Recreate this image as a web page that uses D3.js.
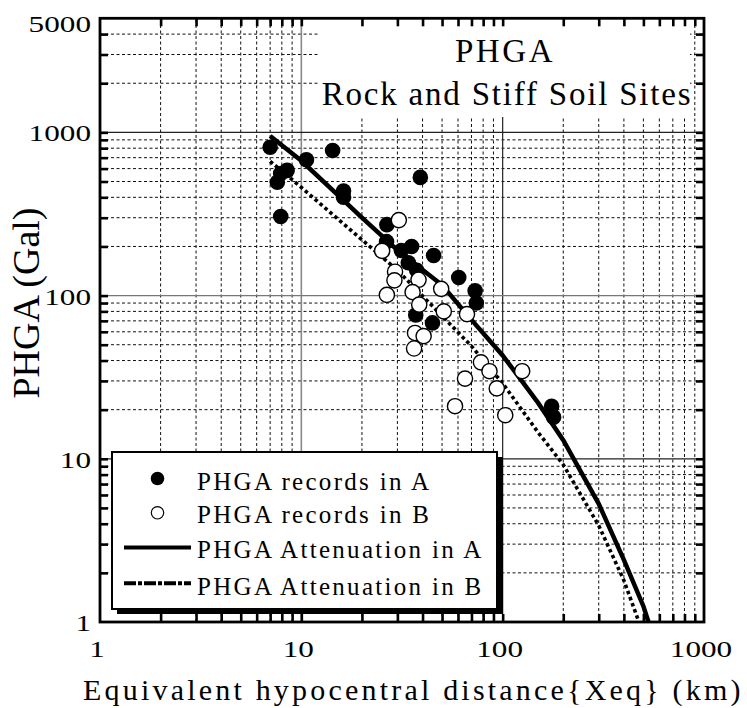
<!DOCTYPE html>
<html>
<head>
<meta charset="utf-8">
<script src="https://cdn.jsdelivr.net/npm/d3@7"></script>
<style>
  html, body { margin: 0; padding: 0; background: #fff; }
  svg { display: block; }
  text { font-family: "Liberation Serif", "Times New Roman", serif; fill: #000; }
</style>
</head>
<body>
<svg id="chart" width="747" height="708"></svg>
<script>
// PHGA records (distance km, PHGA Gal)
const recordsA_x = [7.0, 14.3, 10.6, 8.5, 7.9, 7.6, 16.2, 16.2, 7.9, 26.6, 26.5, 39, 35.3, 31.4, 45.4, 34, 37.4, 60.5, 73, 74, 37, 44.8, 175, 179];
const recordsA_y = [810, 775, 680, 585, 560, 495, 437, 400, 305, 272, 214, 530, 200, 189, 176, 159, 143, 129, 107, 90, 76, 68, 21, 18];
const recordsB_x = [30.5, 25.2, 29.2, 29, 38.2, 26.6, 35.7, 49.5, 38.5, 51, 66.5, 36.7, 40.5, 36.3, 78, 86, 125, 65, 93.5, 58, 103];
const recordsB_y = [290, 188, 140, 124, 125, 101, 105, 110, 88, 80, 77, 59, 56.5, 47.4, 39, 34.4, 34.4, 31, 27, 21, 18.5];

// attenuation curves
const attenA_x = [7, 10, 20, 30, 50, 70, 100, 150, 200, 300, 400, 500, 530];
const attenA_y = [950, 670, 300, 190, 116, 71, 43, 22, 13, 5.3, 2.4, 1.25, 1.0];
const attenB_x = [7, 10, 20, 30, 50, 70, 100, 150, 200, 300, 400, 475];
const attenB_y = [665, 460, 220, 143, 75, 49, 29, 14.5, 9.2, 3.9, 1.8, 1.0];

// axes
const xDomain = [1, 1000];
const yDomain = [1, 5000];
const xTickLabels = ["1", "10", "100", "1000"];
const yTickLabels = ["1", "10", "100", "1000", "5000"];
const legendLabels = ["PHGA records in A", "PHGA records in B", "PHGA Attenuation in A", "PHGA Attenuation in B"];

const svg = d3.select("#chart");
const L = 100, R = 704, T = 18.3, B = 622;
const x = d3.scaleLog().domain(xDomain).range([L, R]);
const y = d3.scaleLog().domain(yDomain).range([B, T]);

// minor / major positions
const xMinor = [], yMinor = [];
[1, 10, 100].forEach(d => { for (let k = 2; k <= 9; k++) { xMinor.push(k * d); yMinor.push(k * d); } });
[2000, 3000, 4000].forEach(v => yMinor.push(v));
const xMajorGrid = [10, 100];
const yMajorGrid = [10, 100, 1000];

const grid = svg.append("g");
grid.selectAll(".vmin").data(xMinor).join("line")
  .attr("x1", d => x(d)).attr("x2", d => x(d)).attr("y1", B).attr("y2", T)
  .attr("stroke", "#111").attr("stroke-width", 1).attr("stroke-dasharray", "3,2.5");
grid.selectAll(".hmin").data(yMinor).join("line")
  .attr("y1", d => y(d)).attr("y2", d => y(d)).attr("x1", L).attr("x2", R)
  .attr("stroke", "#111").attr("stroke-width", 1).attr("stroke-dasharray", "3,2.5");
grid.selectAll(".vmaj").data(xMajorGrid).join("line")
  .attr("x1", d => x(d)).attr("x2", d => x(d)).attr("y1", B).attr("y2", T)
  .attr("stroke", d => d === 10 ? "#888" : "#222").attr("stroke-width", d => d === 10 ? 1.6 : 1.2);
grid.selectAll(".hmaj").data(yMajorGrid).join("line")
  .attr("y1", d => y(d)).attr("y2", d => y(d)).attr("x1", L).attr("x2", R)
  .attr("stroke", d => d === 100 ? "#777" : "#222").attr("stroke-width", 1.2);

// title panel
svg.append("rect").attr("x", 320).attr("y", 20).attr("width", 370).attr("height", 97).attr("fill", "#fff");
svg.append("text").attr("x", 505).attr("y", 61.5).attr("text-anchor", "middle")
  .attr("font-size", 33).attr("letter-spacing", 2.6).text("PHGA");
svg.append("text").attr("x", 507).attr("y", 105).attr("text-anchor", "middle")
  .attr("font-size", 33).attr("letter-spacing", 1.8).text("Rock and Stiff Soil Sites");

// attenuation curves
const lineGen = d3.line().x(d => x(d[0])).y(d => y(d[1]));
svg.append("path").datum(d3.zip(attenA_x, attenA_y)).attr("d", lineGen)
  .attr("fill", "none").attr("stroke", "#000").attr("stroke-width", 4.5);
svg.append("path").datum(d3.zip(attenB_x, attenB_y)).attr("d", lineGen)
  .attr("fill", "none").attr("stroke", "#000").attr("stroke-width", 3.6).attr("stroke-dasharray", "3.5,3");

// records
svg.append("g").selectAll("circle").data(d3.zip(recordsA_x, recordsA_y)).join("circle")
  .attr("cx", d => x(d[0])).attr("cy", d => y(d[1])).attr("r", 7.8).attr("fill", "#000");
svg.append("g").selectAll("circle").data(d3.zip(recordsB_x, recordsB_y)).join("circle")
  .attr("cx", d => x(d[0])).attr("cy", d => y(d[1])).attr("r", 7.6)
  .attr("fill", "#fff").attr("stroke", "#000").attr("stroke-width", 1.4);

// axis ticks (inward on all four sides)
const xTickVals = xMinor.concat([10, 100]);
const yTickVals = yMinor.concat([10, 100, 1000]);
function styleAxis(g) {
  g.select(".domain").remove();
  g.selectAll(".tick line").attr("stroke", "#000").attr("stroke-width", 2.6);
  g.selectAll(".tick text").remove();
}
svg.append("g").attr("transform", `translate(0,${B})`)
  .call(d3.axisBottom(x).tickValues(xTickVals).tickSize(-8).tickFormat("")).call(styleAxis);
svg.append("g").attr("transform", `translate(0,${T})`)
  .call(d3.axisTop(x).tickValues(xTickVals).tickSize(-8).tickFormat("")).call(styleAxis);
svg.append("g").attr("transform", `translate(${L},0)`)
  .call(d3.axisLeft(y).tickValues(yTickVals).tickSize(-8).tickFormat("")).call(styleAxis);
svg.append("g").attr("transform", `translate(${R},0)`)
  .call(d3.axisRight(y).tickValues(yTickVals).tickSize(-8).tickFormat("")).call(styleAxis);

// legend
const lg = svg.append("g");
lg.append("rect").attr("x", 117).attr("y", 457).attr("width", 386).attr("height", 157).attr("fill", "#000");
lg.append("rect").attr("x", 112).attr("y", 452).attr("width", 385).attr("height", 157)
  .attr("fill", "#fff").attr("stroke", "#000").attr("stroke-width", 2);
lg.append("circle").attr("cx", 157.5).attr("cy", 478.5).attr("r", 6.8).attr("fill", "#000");
lg.append("circle").attr("cx", 157.5).attr("cy", 512.8).attr("r", 6.2)
  .attr("fill", "#fff").attr("stroke", "#000").attr("stroke-width", 1.2);
lg.append("line").attr("x1", 124).attr("x2", 191).attr("y1", 547.5).attr("y2", 547.5)
  .attr("stroke", "#000").attr("stroke-width", 4);
lg.append("line").attr("x1", 124).attr("x2", 191).attr("y1", 583.3).attr("y2", 583.3)
  .attr("stroke", "#000").attr("stroke-width", 4).attr("stroke-dasharray", "12,2,4,2");
const legendBase = [490, 523.3, 558.3, 595];
lg.selectAll("text.lt").data(legendLabels).join("text")
  .attr("x", 197).attr("y", (d, i) => legendBase[i])
  .attr("font-size", 25).attr("letter-spacing", 2.3).text(d => d);

// frame
svg.append("rect").attr("x", L).attr("y", T).attr("width", R - L).attr("height", B - T)
  .attr("fill", "none").attr("stroke", "#000").attr("stroke-width", 2.8);

// tick labels (wide numerals)
const yLabelVals = [1, 10, 100, 1000, 5000];
yLabelVals.forEach((v, i) => {
  const by = v === 5000 ? 32 : y(v) + 9;
  svg.append("g").attr("transform", `translate(91,${by}) scale(1.3,1)`)
    .append("text").attr("text-anchor", "end").attr("font-size", 24).text(yTickLabels[i]);
});
[1, 10, 100, 1000].forEach((v, i) => {
  svg.append("g").attr("transform", `translate(${x(v) - 3},657) scale(1.3,1)`)
    .append("text").attr("text-anchor", "middle").attr("font-size", 24).text(xTickLabels[i]);
});

// axis titles
svg.append("text").attr("x", 83).attr("y", 700).attr("font-size", 30).attr("letter-spacing", 3.2)
  .text("Equivalent hypocentral distance{Xeq} (km)");
svg.append("text").attr("transform", "translate(38.5,303) rotate(-90)").attr("text-anchor", "middle")
  .attr("font-size", 38).text("PHGA (Gal)");
</script>
</body>
</html>
